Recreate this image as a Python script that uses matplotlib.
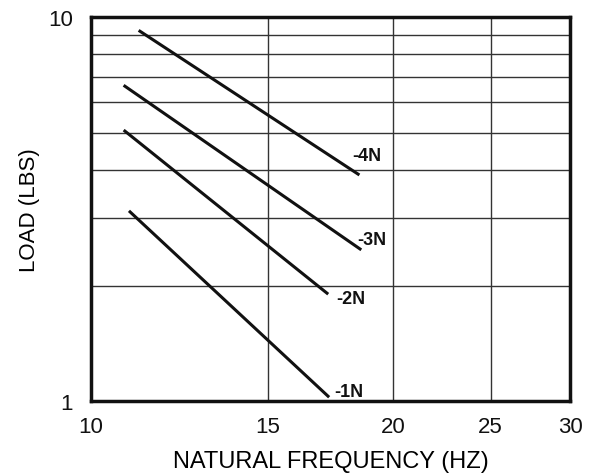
import numpy as np
import matplotlib
matplotlib.use("Agg")
from matplotlib import pyplot as plt
from matplotlib.ticker import FixedLocator, NullLocator, NullFormatter

plt.rcParams['font.family'] = ['Liberation Sans', 'DejaVu Sans']

# curve endpoints (frequency in Hz, load in lbs)
series = ["-4N", "-3N", "-2N", "-1N"]
freq_start = [11.19, 10.81, 10.81, 10.94]
freq_end = [18.45, 18.53, 17.18, 17.22]
load_start = [9.19, 6.61, 5.05, 3.11]
load_end = [3.90, 2.49, 1.91, 1.03]
label_x = [18.20, 18.40, 17.55, 17.45]
label_y = [4.35, 2.64, 1.85, 1.06]

x_ticks = [10, 15, 20, 25, 30]
y_ticks = [1, 10]
y_grid = [2, 3, 4, 5, 6, 7, 8, 9]
x_grid = [15, 20, 25]

fig = plt.figure(figsize=(5.94, 4.77), dpi=100)
ax = fig.add_axes([0.153, 0.157, 0.807, 0.805])
ax.set_xscale('log')
ax.set_yscale('log')
ax.set_xlim(10, 30)
ax.set_ylim(1, 10)

for v in y_grid:
    ax.axhline(v, color='#333333', linewidth=1.0, zorder=1)
for v in x_grid:
    ax.axvline(v, color='#333333', linewidth=1.0, zorder=1)

for i in range(len(series)):
    ax.plot([freq_start[i], freq_end[i]], [load_start[i], load_end[i]],
            color='#111111', linewidth=2.2, zorder=3)
    ax.text(label_x[i], label_y[i], series[i], fontsize=13, fontweight='bold',
            ha='left', va='center', color='#111111')

ax.xaxis.set_major_locator(FixedLocator(x_ticks))
ax.xaxis.set_minor_locator(NullLocator())
ax.xaxis.set_minor_formatter(NullFormatter())
ax.set_xticklabels([str(t) for t in x_ticks])
ax.yaxis.set_major_locator(FixedLocator(y_ticks))
ax.yaxis.set_minor_locator(NullLocator())
ax.yaxis.set_minor_formatter(NullFormatter())
ax.set_yticklabels([str(t) for t in y_ticks])
ax.tick_params(length=0, labelsize=16, colors='#111111')
ax.tick_params(axis='x', pad=11)
ax.tick_params(axis='y', pad=13)

for s in ax.spines.values():
    s.set_linewidth(2.5)
    s.set_color('#111111')

ax.set_xlabel("NATURAL FREQUENCY (HZ)", fontsize=17, labelpad=9)
ax.set_ylabel("LOAD (LBS)", fontsize=16, labelpad=6)

plt.savefig("out.png", dpi=100)
